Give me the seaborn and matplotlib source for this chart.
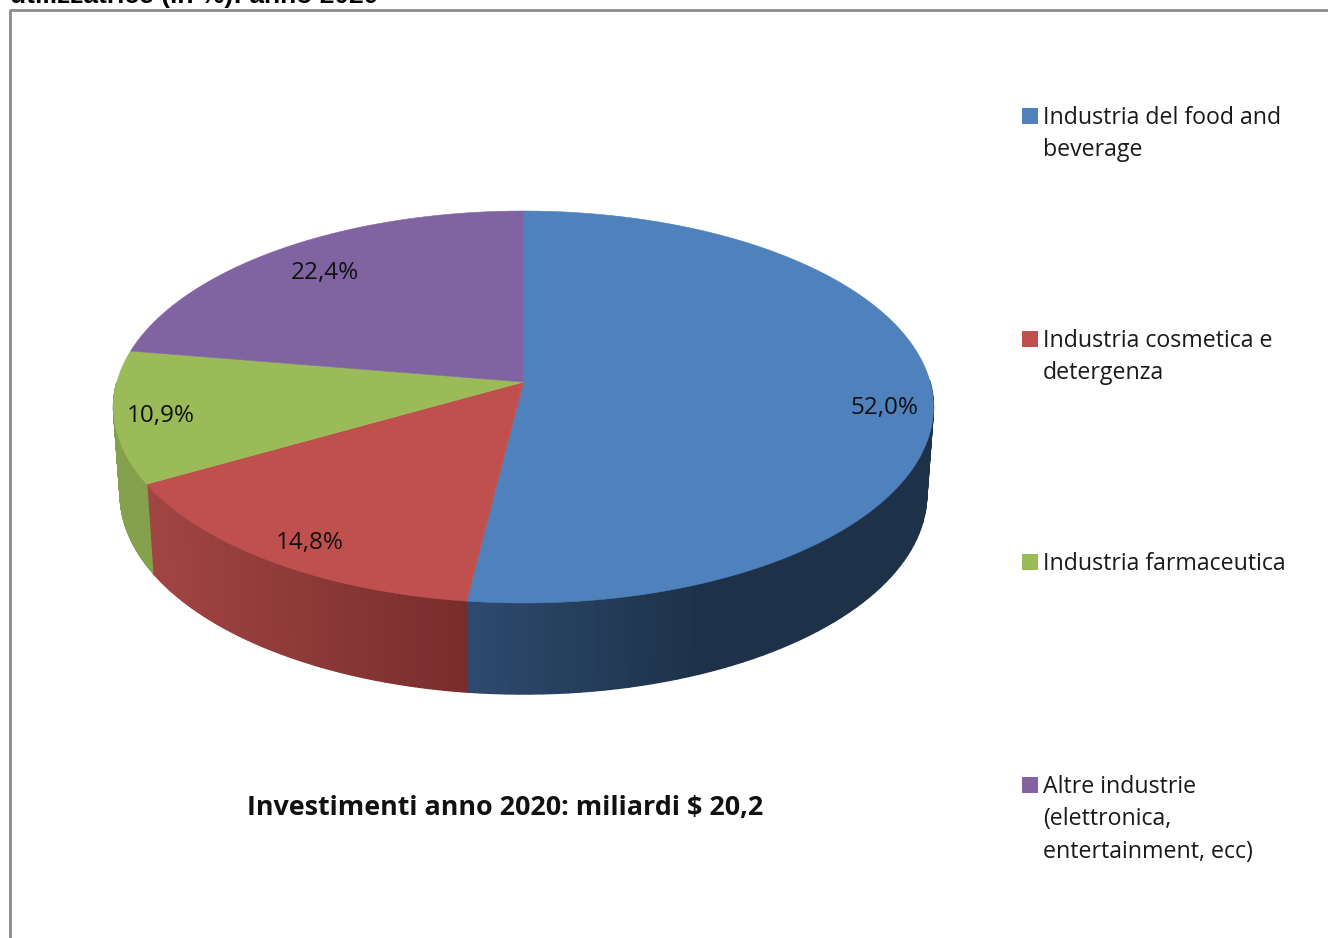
import numpy as np
import matplotlib
matplotlib.use("Agg")
import matplotlib.pyplot as plt
from matplotlib.colors import to_rgb
import seaborn as sns

# Values
categories = ["Industria del food and\nbeverage", "Industria cosmetica e\ndetergenza",
              "Industria farmaceutica", "Altre industrie\n(elettronica,\nentertainment, ecc)"]
shares = [52.0, 14.8, 10.9, 22.4]
share_labels = ["52,0%", "14,8%", "10,9%", "22,4%"]
top_colors = ["#4f81bd", "#c0504d", "#9bbb59", "#8064a2"]
side_left = ["#2d4a6e", "#a14543", "#84a04d", "#6a5388"]
side_right = ["#1d3249", "#772d2c", "#84a04d", "#6a5388"]
title_text = "utilizzatrice (in %): anno 2020"
note_text = "Investimenti anno 2020: miliardi $ 20,2"

sns.set_theme(style="white")
plt.rcParams["font.family"] = ["Open Sans", "DejaVu Sans"]

W, H = 1328, 938
fig = plt.figure(figsize=(W / 100, H / 100), dpi=100, facecolor="white")
ax = fig.add_axes([0, 0, 1, 1])
ax.set_xlim(0, W)
ax.set_ylim(H, 0)
ax.axis("off")


def project(theta, plane):
    # theta clockwise from 12 o'clock, perspective view of a flat disc
    cx, cy, a, b, k = plane
    u, v = np.sin(theta), np.cos(theta)
    w = 1 + k * v
    return cx + a * u / w, cy - b * v / w


top_plane = (523.5, 382, 406.6, 192.8, 0.1276)
bottom_plane = (523.5, 468.7, 400, 196.6, 0.1276)

edges = np.radians(np.cumsum([0] + shares) / sum(shares) * 360)

# where the side shading runs from light to dark, per slice
shade_span = [(467, 700), (150, 467), (110, 160), (110, 160)]

# sides first, cut in thin strips for the shading (front half only)
for i in range(len(shares)):
    t = np.linspace(edges[i], edges[i + 1], 120)
    c0, c1 = np.array(to_rgb(side_left[i])), np.array(to_rgb(side_right[i]))
    for j in range(len(t) - 1):
        if np.cos(t[j:j + 2].mean()) > 0:
            continue
        xt, yt = project(t[j:j + 2], top_plane)
        xb, yb = project(t[j:j + 2], bottom_plane)
        f = np.clip((xt.mean() - shade_span[i][0]) / (shade_span[i][1] - shade_span[i][0]), 0, 1)
        col = c0 + (c1 - c0) * f
        ax.fill(np.r_[xt, xb[::-1]], np.r_[yt, yb[::-1]], color=col, lw=1, zorder=2)

# top of the pie
for i in range(len(shares)):
    t = np.linspace(edges[i], edges[i + 1], 200)
    x, y = project(t, top_plane)
    ax.fill(np.r_[top_plane[0], x], np.r_[top_plane[1], y], color=top_colors[i], lw=0.4, zorder=3)

label_pos = [(884, 408), (310, 543), (161, 416), (325, 273)]
for (lx, ly), s in zip(label_pos, share_labels):
    ax.text(lx, ly, s, fontsize=17.5, color="#111111", ha="center", va="center", zorder=4)

# legend
legend_y = [116, 339, 562, 785]
for name, col, ly in zip(categories, top_colors, legend_y):
    ax.scatter([1029.5], [ly], marker="s", s=117, color=col, lw=0, zorder=4)
    ax.text(1043, ly - 10, name, fontsize=16.7, color="#1a1a1a", ha="left", va="top", linespacing=1.46)

ax.text(505.5, 808, note_text, fontsize=19.4, fontweight="bold", color="#111111", ha="center", va="center")
ax.text(10, 3, title_text, fontsize=19, fontweight="bold", family=["Liberation Sans"], color="black", ha="left", va="baseline")

# chart frame, runs off the picture on the right and at the bottom
ax.plot([10, 10, W + 5], [H + 5, 10.5, 10.5], color="#8c8c8c", lw=2, zorder=5)

fig.savefig("out.png", dpi=100)
